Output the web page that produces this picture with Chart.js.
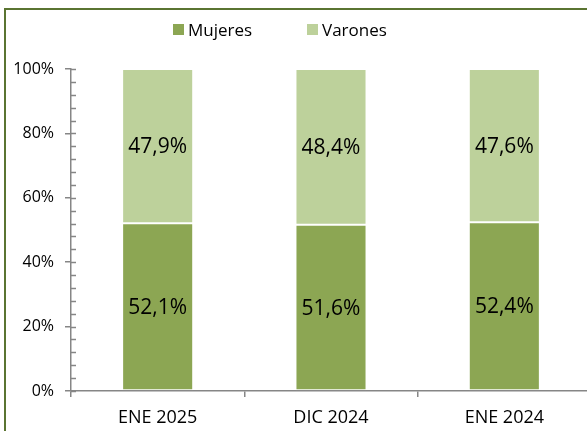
<!DOCTYPE html>
<html>
<head>
<meta charset="utf-8">
<script src="https://cdn.jsdelivr.net/npm/chart.js@4"></script>
<style>
  html, body { margin: 0; padding: 0; background: #fff; }
  #wrap { position: relative; width: 587px; height: 431px; overflow: hidden; background: #fff; }
  #frame { position: absolute; left: 4px; top: 8px; width: 620px; height: 460px;
           border-left: 2px solid #5a7431; border-top: 2px solid #5a7431; box-sizing: border-box; }
  #chart { position: absolute; left: 0; top: 0; }
  .leg { position: absolute; top: 20px; font: 17px "Open Sans", sans-serif; color: #000; line-height: 20px; }
  .leg span { position: absolute; top: 4px; width: 11px; height: 11px; }
</style>
</head>
<body>
<div id="wrap">
  <div id="frame"></div>
  <canvas id="chart" width="591" height="431"></canvas>
  <div id="legend"></div>
</div>
<script>
// Categories and series (percentages)
const categories = ['ENE 2025', 'DIC 2024', 'ENE 2024'];
const seriesNames = ['Mujeres', 'Varones'];
const mujeres = [52.1, 51.6, 52.4];
const varones = [47.9, 48.4, 47.6];
const yTicks = [0, 20, 40, 60, 80, 100];

const colors = ['#8ca653', '#bdd19b'];

// Legend drawn as html text (positions matched to the original)
const legendX = [173, 307];
const legendEl = document.getElementById('legend');
seriesNames.forEach((name, i) => {
  const d = document.createElement('div');
  d.className = 'leg';
  d.style.left = legendX[i] + 'px';
  d.innerHTML = '<span style="left:0;background:' + colors[i] + '"></span>' +
    '<div style="margin-left:15px">' + name + '</div>';
  legendEl.appendChild(d);
});

// Value labels in the middle of every segment
const barLabels = {
  id: 'barLabels',
  afterDatasetsDraw(chart) {
    const ctx = chart.ctx;
    ctx.save();
    ctx.font = '21px "Open Sans", sans-serif';
    ctx.fillStyle = '#000';
    ctx.textAlign = 'center';
    ctx.textBaseline = 'middle';
    chart.data.datasets.forEach((ds, di) => {
      chart.getDatasetMeta(di).data.forEach((bar, i) => {
        const p = bar.getProps(['x', 'y', 'base'], true);
        ctx.fillText(ds.data[i].toFixed(1).replace('.', ',') + '%', p.x, (p.y + p.base) / 2 + 1);
      });
    });
    ctx.restore();
  }
};

// Short ticks on the inner side of the value axis (major and minor)
const innerTicks = {
  id: 'innerTicks',
  afterDraw(chart) {
    const y = chart.scales.y;
    const ctx = chart.ctx;
    ctx.save();
    ctx.strokeStyle = '#868686';
    ctx.lineWidth = 1.5;
    y.ticks.forEach(t => {
      const py = Math.round(y.getPixelForValue(t.value)) + 0.5;
      ctx.beginPath();
      ctx.moveTo(y.right, py);
      ctx.lineTo(y.right + 5, py);
      ctx.stroke();
    });
    ctx.restore();
  }
};

new Chart(document.getElementById('chart'), {
  type: 'bar',
  data: {
    labels: categories,
    datasets: [
      { label: seriesNames[0], data: mujeres, backgroundColor: colors[0] },
      { label: seriesNames[1], data: varones, backgroundColor: colors[1] }
    ]
  },
  options: {
    responsive: false,
    animation: false,
    layout: { padding: { top: 69, left: 6, right: 0, bottom: 0 } },
    datasets: {
      bar: {
        barPercentage: 0.41,
        categoryPercentage: 1,
        borderColor: 'rgba(255,255,255,0.35)',
        borderWidth: 1,
        borderSkipped: false
      }
    },
    plugins: {
      legend: { display: false },
      tooltip: { enabled: false }
    },
    scales: {
      x: {
        stacked: true,
        afterFit(scale) { scale.height = 40; },
        border: { color: '#868686', width: 1.5 },
        grid: { drawOnChartArea: false, offset: true, tickLength: 6, color: '#868686', lineWidth: 1.5 },
        ticks: { color: '#000', padding: 10, font: { family: 'Open Sans', size: 18 } }
      },
      y: {
        stacked: true,
        min: 0,
        max: 100,
        afterFit(scale) { scale.width = 65; },
        border: { color: '#868686', width: 1.5 },
        grid: {
          drawOnChartArea: false,
          tickLength: 6,
          lineWidth: 1.5,
          color: ctx => yTicks.includes(ctx.tick.value) ? '#868686' : 'rgba(0,0,0,0)'
        },
        ticks: {
          stepSize: 4,
          autoSkip: false,
          padding: 11,
          color: '#000',
          font: { family: 'Open Sans', size: 16 },
          callback: v => yTicks.includes(v) ? v + '%' : ''
        }
      }
    }
  },
  plugins: [barLabels, innerTicks]
});
</script>
</body>
</html>
